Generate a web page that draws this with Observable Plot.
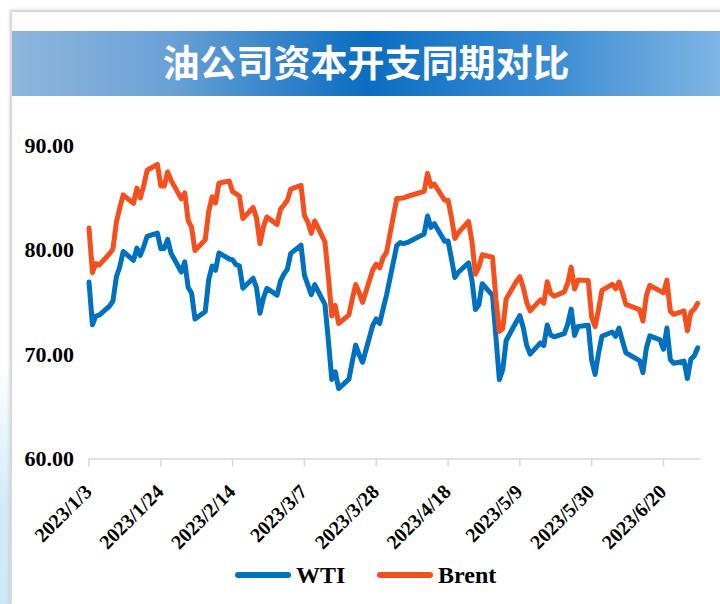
<!DOCTYPE html>
<html>
<head>
<meta charset="utf-8">
<script src="https://cdn.jsdelivr.net/npm/d3@7"></script>
<script src="https://cdn.jsdelivr.net/npm/@observablehq/plot@0.6"></script>
<style>
  body { margin: 0; background: #fff; }
  #page { position: relative; width: 720px; height: 604px; background: #fff; overflow: hidden; }
  #leftbg { position: absolute; left: 0; top: 360px; width: 11px; height: 244px;
    background: linear-gradient(to bottom, rgba(214,236,248,0) 0%, #d3ebf8 60%, #cfe8f7 100%); }
  #frame { position: absolute; left: 10px; top: 10px; width: 720px; height: 610px;
    border-top: 2px solid #d9d9d9; border-left: 2px solid #d9d9d9;
    box-shadow: -1px -1px 3px rgba(0,0,0,0.10); background: #fff; }
  #band { position: absolute; left: 12px; top: 31px; width: 708px; height: 65px;
    background: linear-gradient(to right, #8fb6dc 0%, #6aa2d6 22%, #0b6dc1 50%, #3a8cd3 76%, #80b5e3 100%);
    display: flex; align-items: center; justify-content: center;
    color: #fff; font-family: "Noto Sans CJK SC", sans-serif; font-weight: 700; font-size: 37px;
    padding-bottom: 6px; box-sizing: border-box; letter-spacing: 0px; }
  #chart { position: absolute; left: 0; top: 100px; }
  .lg { position: absolute; font-family: "Liberation Serif", serif; font-weight: bold; font-size: 24px; color: #000; line-height: 24px; }
  .sw { position: absolute; height: 6px; border-radius: 3px; }
</style>
</head>
<body>
<div id="page">
  <div id="leftbg"></div>
  <div id="frame"></div>
  <div id="band">油公司资本开支同期对比</div>
  <div id="chart"></div>
  <div class="sw" style="left:235px;top:572px;width:56px;background:#0070c0"></div>
  <div class="lg" style="left:296px;top:563px">WTI</div>
  <div class="sw" style="left:377px;top:572px;width:56px;background:#f4501e"></div>
  <div class="lg" style="left:438px;top:563px">Brent</div>
</div>
<script>
const dates = [
  "2023-01-03","2023-01-04","2023-01-05","2023-01-06","2023-01-09","2023-01-10","2023-01-11","2023-01-12","2023-01-13",
  "2023-01-16","2023-01-17","2023-01-18","2023-01-19","2023-01-20","2023-01-23","2023-01-24","2023-01-25","2023-01-26",
  "2023-01-27","2023-01-30","2023-01-31",
  "2023-02-01","2023-02-02","2023-02-03","2023-02-06","2023-02-07","2023-02-08","2023-02-09","2023-02-10","2023-02-13",
  "2023-02-14","2023-02-15","2023-02-16","2023-02-17","2023-02-20","2023-02-21","2023-02-22","2023-02-23","2023-02-24",
  "2023-02-27","2023-02-28",
  "2023-03-01","2023-03-02","2023-03-03","2023-03-06","2023-03-07","2023-03-08","2023-03-09","2023-03-10","2023-03-13",
  "2023-03-14","2023-03-15","2023-03-16","2023-03-17","2023-03-20","2023-03-21","2023-03-22","2023-03-23","2023-03-24",
  "2023-03-27","2023-03-28","2023-03-29","2023-03-30","2023-03-31",
  "2023-04-03","2023-04-04","2023-04-05","2023-04-06","2023-04-11","2023-04-12","2023-04-13","2023-04-14","2023-04-17",
  "2023-04-18","2023-04-19","2023-04-20","2023-04-21","2023-04-24","2023-04-25","2023-04-26","2023-04-27","2023-04-28",
  "2023-05-01","2023-05-02","2023-05-03","2023-05-04","2023-05-05","2023-05-08","2023-05-09","2023-05-10","2023-05-11",
  "2023-05-12","2023-05-15","2023-05-16","2023-05-17","2023-05-18","2023-05-19","2023-05-22","2023-05-23","2023-05-24",
  "2023-05-25","2023-05-26","2023-05-29","2023-05-30","2023-05-31",
  "2023-06-01","2023-06-02","2023-06-05","2023-06-06","2023-06-07","2023-06-08","2023-06-09","2023-06-13","2023-06-14",
  "2023-06-15","2023-06-16","2023-06-19","2023-06-20","2023-06-21","2023-06-22","2023-06-23","2023-06-26","2023-06-27",
  "2023-06-28","2023-06-29","2023-06-30"
];
const wti = [
  76.93,72.84,73.67,73.77,74.63,75.12,77.41,78.39,79.86,
  79.0,80.18,79.48,80.33,81.31,81.62,80.13,80.15,81.01,
  79.68,77.90,78.87,
  76.41,75.88,73.39,74.11,77.14,78.47,78.06,79.72,79.14,
  79.06,78.59,78.49,76.34,77.3,76.36,73.95,75.39,76.32,
  75.68,77.05,
  77.69,78.16,79.68,80.46,77.58,76.66,75.72,76.68,74.80,
  71.33,67.61,68.35,66.74,67.64,69.33,70.90,69.96,69.26,
  72.81,73.40,72.97,74.37,75.67,
  80.42,80.71,80.61,80.70,81.53,83.26,82.16,82.52,80.83,
  80.86,79.16,77.37,77.87,78.76,77.07,74.30,74.76,76.78,
  75.66,71.66,67.6,68.56,71.34,73.16,73.71,72.56,70.87,
  70.04,71.11,70.86,72.83,71.86,71.69,71.99,72.91,74.34,
  71.83,72.67,72.8,69.46,68.09,
  70.10,71.74,72.15,71.74,72.53,71.29,70.17,69.42,68.27,
  70.62,71.78,71.4,70.5,72.53,69.51,69.16,69.37,67.70,
  69.56,69.86,70.64
];
const brent = [
  82.10,77.84,78.69,78.57,79.65,80.10,82.67,84.03,85.28,
  84.46,85.92,84.98,86.16,87.63,88.19,86.13,86.12,87.47,
  86.66,84.90,85.46,
  82.84,82.17,79.94,80.99,83.69,85.09,84.50,86.39,86.61,
  85.58,85.38,85.14,83.00,84.07,83.05,80.60,82.21,83.16,
  82.45,83.89,
  84.31,84.75,85.83,86.18,83.29,82.66,81.59,82.78,80.77,
  77.45,73.69,74.70,72.97,73.79,75.32,76.69,75.91,74.99,
  78.12,78.65,78.28,79.27,79.77,
  84.93,84.94,84.99,85.12,85.61,87.33,86.09,86.31,84.76,
  84.77,83.12,81.10,81.66,82.73,80.77,77.69,78.37,79.54,
  79.31,75.32,72.2,72.50,75.30,77.01,77.44,76.41,74.98,
  74.17,75.23,74.91,76.96,75.86,75.58,75.99,76.84,78.36,
  76.26,77.12,77.07,73.54,72.66,
  74.28,76.13,76.71,76.29,76.95,75.96,74.79,74.29,73.20,
  75.67,76.61,76.09,75.90,77.12,74.14,73.85,74.18,72.26,
  74.03,74.34,74.90
];
const seriesNames = ["WTI", "Brent"];
const seriesColors = ["#0070c0", "#f4501e"];
const tickDates = ["2023-01-03","2023-01-24","2023-02-14","2023-03-07","2023-03-28","2023-04-18","2023-05-09","2023-05-30","2023-06-20"];
const tickLabels = ["2023/1/3","2023/1/24","2023/2/14","2023/3/7","2023/3/28","2023/4/18","2023/5/9","2023/5/30","2023/6/20"];
const yTicks = [60, 70, 80, 90];
const xDomain = ["2023-01-03", "2023-07-01"];

const parse = d3.utcParse("%Y-%m-%d");
const rows = [];
dates.forEach((d, i) => rows.push({date: parse(d), value: wti[i], series: "WTI"}));
dates.forEach((d, i) => rows.push({date: parse(d), value: brent[i], series: "Brent"}));
const ticks = tickDates.map(parse);

const chart = Plot.plot({
  width: 720,
  height: 460,
  marginLeft: 88.5,
  marginRight: 19.4,
  marginTop: 45,
  marginBottom: 101.5,
  style: {background: "transparent", fontFamily: "Liberation Serif, serif", overflow: "visible"},
  x: {type: "utc", domain: xDomain.map(parse), label: null},
  y: {domain: [60, 90], label: null},
  color: {domain: seriesNames, range: seriesColors},
  marks: [
    Plot.ruleY([60], {stroke: "#d9d9d9", strokeWidth: 1.5}),
    Plot.axisX({ticks: ticks, tickSize: 8, tickFormat: () => "", stroke: "#d9d9d9", strokeWidth: 1.5, label: null}),
    Plot.text(ticks, {
      x: d => d, frameAnchor: "bottom", text: (d, i) => tickLabels[i],
      rotate: -45, textAnchor: "end", lineAnchor: "bottom", dx: 4, dy: 34,
      fontSize: 20, fontWeight: "bold", fill: "#000"
    }),
    Plot.axisY({ticks: yTicks, tickSize: 0, tickPadding: 15, tickFormat: d => d.toFixed(2),
      fontSize: 22, fontWeight: "bold", fill: "#000", label: null}),
    Plot.line(rows, {x: "date", y: "value", z: "series", stroke: "series",
      strokeWidth: 5, strokeLinejoin: "round", strokeLinecap: "round"})
  ]
});
document.getElementById("chart").appendChild(chart);
</script>
</body>
</html>
